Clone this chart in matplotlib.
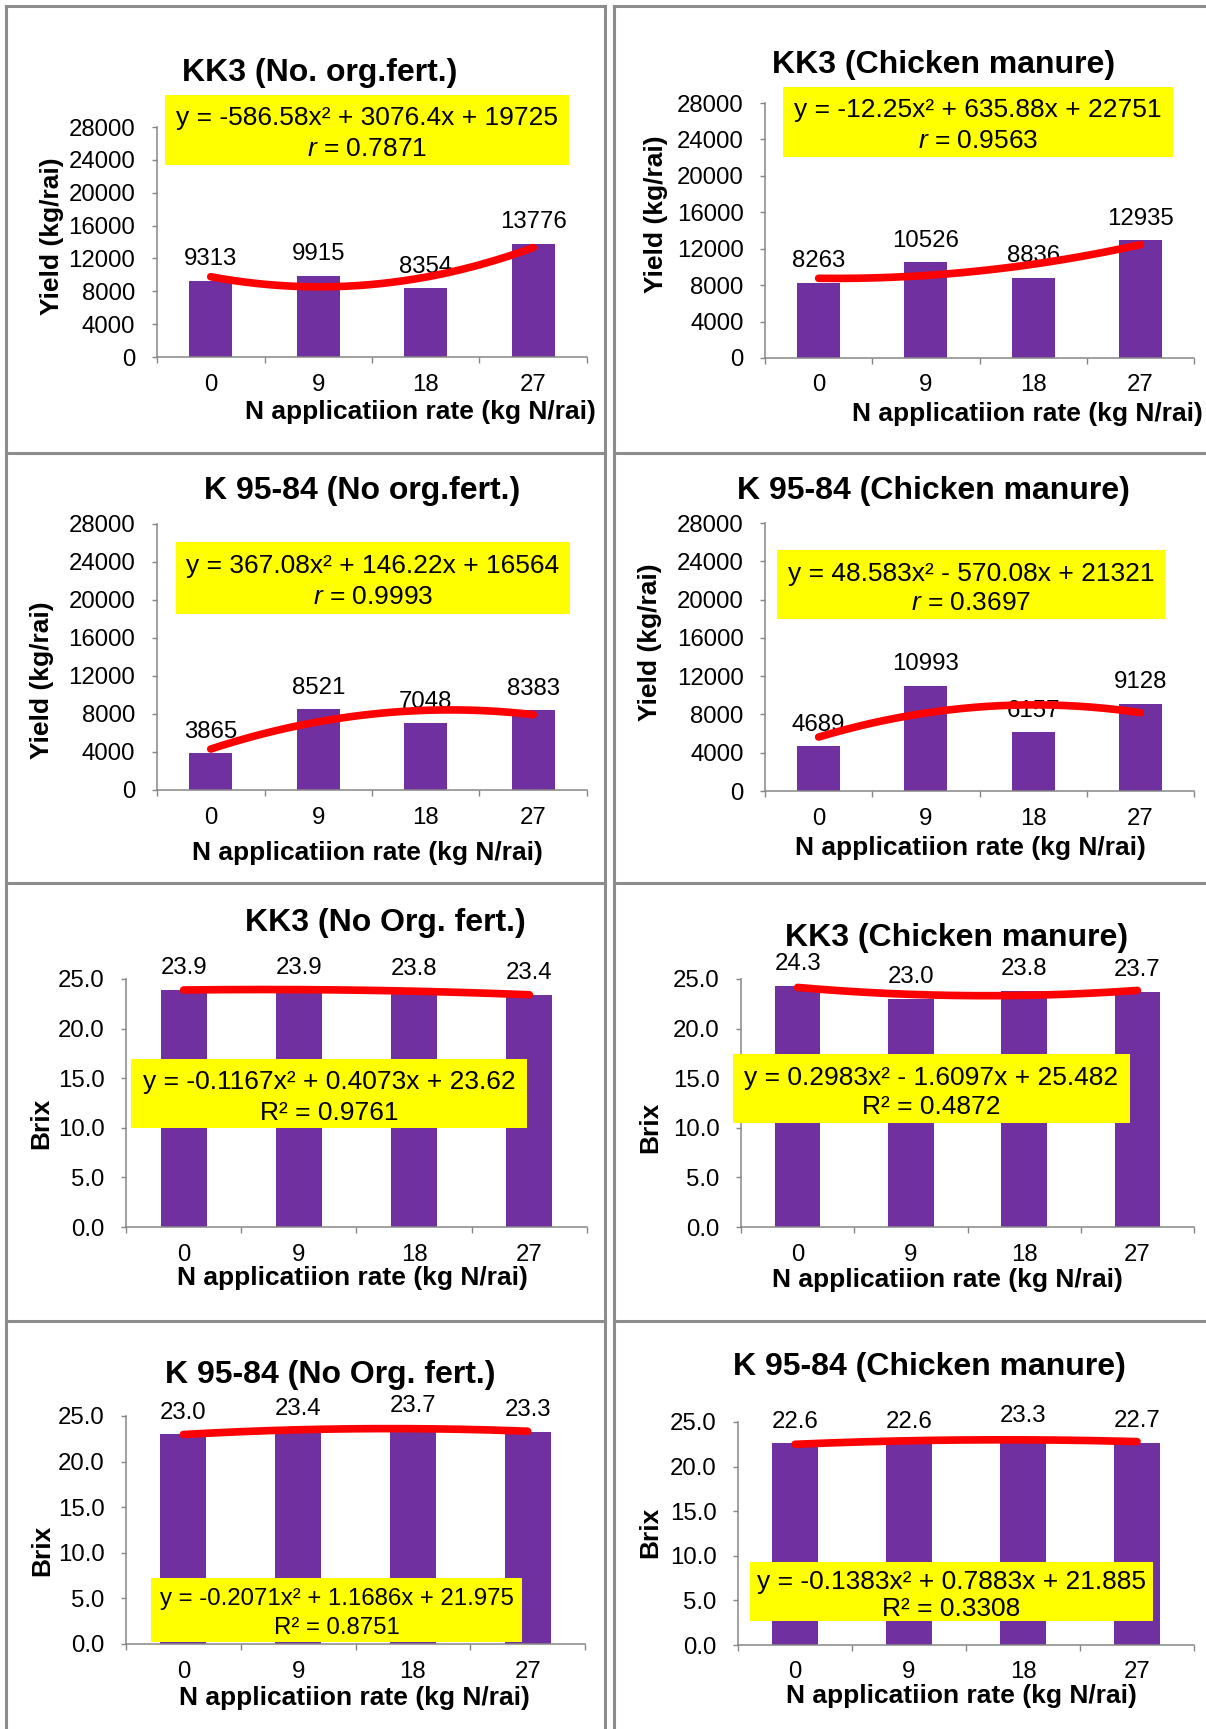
import numpy as np
import matplotlib
matplotlib.use("Agg")
import matplotlib.pyplot as plt
from matplotlib.patches import Rectangle
from matplotlib.lines import Line2D

plt.rcParams['font.family'] = ['Liberation Sans', 'DejaVu Sans']
plt.rcParams['mathtext.fontset'] = 'custom'
plt.rcParams['mathtext.rm'] = 'Liberation Sans'
plt.rcParams['mathtext.it'] = 'Liberation Sans:italic'

W, H = 1206, 1729
PT = 0.72  # points per pixel (dpi 100)

# ---- data ----
rates = ["0", "9", "18", "27"]

yield_kk3_none = [9313, 9915, 8354, 13776]
yield_kk3_chicken = [8263, 10526, 8836, 12935]
yield_k95_none = [3865, 8521, 7048, 8383]
yield_k95_chicken = [4689, 10993, 6157, 9128]

brix_kk3_none = [23.9, 23.9, 23.8, 23.4]
brix_kk3_chicken = [24.3, 23.0, 23.8, 23.7]
brix_k95_none = [23.0, 23.4, 23.7, 23.3]
brix_k95_chicken = [22.6, 22.6, 23.3, 22.7]

titles = ["KK3 (No. org.fert.)", "KK3 (Chicken manure)",
          "K 95-84 (No org.fert.)", "K 95-84 (Chicken manure)",
          "KK3 (No Org. fert.)", "KK3 (Chicken manure)",
          "K 95-84 (No Org. fert.)", "K 95-84 (Chicken manure)"]

equations = ["y = -586.58x² + 3076.4x + 19725",
             "y = -12.25x² + 635.88x + 22751",
             "y = 367.08x² + 146.22x + 16564",
             "y = 48.583x² - 570.08x + 21321",
             "y = -0.1167x² + 0.4073x + 23.62",
             "y = 0.2983x² - 1.6097x + 25.482",
             "y = -0.2071x² + 1.1686x + 21.975",
             "y = -0.1383x² + 0.7883x + 21.885"]

fit_stats = ["$r$ = 0.7871", "$r$ = 0.9563", "$r$ = 0.9993", "$r$ = 0.3697",
             "R² = 0.9761", "R² = 0.4872", "R² = 0.8751", "R² = 0.3308"]

yield_ticks = [0, 4000, 8000, 12000, 16000, 20000, 24000, 28000]
brix_ticks = [0, 5, 10, 15, 20, 25]

series = [yield_kk3_none, yield_kk3_chicken, yield_k95_none, yield_k95_chicken,
          brix_kk3_none, brix_kk3_chicken, brix_k95_none, brix_k95_chicken]

# ---- layout (pixels, origin top-left) ----
# axes: x0, x1, ytop, ybot ; title, ylabel, xlabel centres ; box l, r, t, b ; eq line ys ; tick label y
layout = [
    dict(ax=(157, 587, 127, 357), title=(320, 70), ylab=(52, 236), xlab=(420, 410),
         box=(165, 569, 95, 165), eqy=(115, 147), ticky=383, eqfs=19),
    dict(ax=(765, 1194, 103, 358), title=(944, 62), ylab=(656, 214), xlab=(1027, 412),
         box=(783, 1173, 87, 157), eqy=(107, 138), ticky=383, eqfs=19),
    dict(ax=(157, 587, 524, 790), title=(362, 488), ylab=(42, 680), xlab=(367, 851),
         box=(176, 570, 542, 614), eqy=(563, 595), ticky=816, eqfs=19),
    dict(ax=(765, 1194, 523, 791), title=(933, 488), ylab=(650, 642), xlab=(970, 845),
         box=(777, 1165, 550, 619), eqy=(572, 601), ticky=817, eqfs=19),
    dict(ax=(126, 587, 979, 1227), title=(385, 920), ylab=(41, 1123), xlab=(352, 1275),
         box=(131, 527, 1059, 1128), eqy=(1080, 1110), ticky=1253, eqfs=19),
    dict(ax=(741, 1194, 979, 1227), title=(957, 935), ylab=(650, 1127), xlab=(947, 1278),
         box=(733, 1130, 1054, 1123), eqy=(1075, 1105), ticky=1253, eqfs=19),
    dict(ax=(126, 585, 1416, 1644), title=(330, 1372), ylab=(42, 1550), xlab=(354, 1695),
         box=(151, 522, 1578, 1642), eqy=(1597, 1625), ticky=1670, eqfs=17.3),
    dict(ax=(738, 1194, 1422, 1645), title=(929, 1364), ylab=(650, 1532), xlab=(961, 1694),
         box=(750, 1153, 1562, 1621), eqy=(1580, 1607), ticky=1670, eqfs=19),
]

BAR = "#7030A0"
AXC = "#868686"
FS_TICK = 17.3
FS_TITLE = 23
FS_AXT = 19


def fx(x):
    return x / W


def fy(y):
    return 1 - y / H


fig = plt.figure(figsize=(W / 100, H / 100), dpi=100)

# panel borders
bc = dict(color="#8c8c8c", lw=2.2, transform=fig.transFigure)
for x in (6, 605, 614):
    fig.add_artist(Line2D([fx(x), fx(x)], [fy(6), fy(H)], **bc))
for y in (6, 453, 883, 1321):
    fig.add_artist(Line2D([fx(6), fx(605)], [fy(y), fy(y)], **bc))
    fig.add_artist(Line2D([fx(614), fx(W)], [fy(y), fy(y)], **bc))

for i in range(8):
    lay = layout[i]
    vals = series[i]
    is_yield = i < 4
    x0, x1, yt, yb = lay["ax"]
    ax = fig.add_axes([fx(x0), fy(yb), (x1 - x0) / W, (yb - yt) / H])
    idx = np.arange(len(vals))
    ax.bar(idx, vals, width=0.4, color=BAR, zorder=2)

    # quadratic trend line through the bars
    p = np.polyfit(idx + 1, vals, 2)
    xs = np.linspace(1, 4, 200)
    ax.plot(xs - 1, np.polyval(p, xs), color="#FF0000", lw=5.5,
            solid_capstyle="round", zorder=4, clip_on=False)

    ymax = 28000 if is_yield else 25
    ax.set_xlim(-0.5, 3.5)
    ax.set_ylim(0, ymax)
    ticks = yield_ticks if is_yield else brix_ticks
    ax.set_yticks(ticks)
    ax.set_yticklabels([str(t) if is_yield else "%.1f" % t for t in ticks])
    ax.set_xticks([-0.5, 0.5, 1.5, 2.5, 3.5])
    ax.set_xticklabels([])
    ax.set_xticks(idx, rates, minor=True)

    for s in ("top", "right"):
        ax.spines[s].set_visible(False)
    for s in ("left", "bottom"):
        ax.spines[s].set_color(AXC)
        ax.spines[s].set_linewidth(1.1)
    ax.tick_params(axis="y", which="major", direction="out", length=5 * PT, width=1.0,
                   color=AXC, labelsize=FS_TICK, pad=16.5 * PT)
    ax.tick_params(axis="x", which="major", direction="out", length=6 * PT, width=1.0,
                   color=AXC)
    ax.tick_params(axis="x", which="minor", length=0, labelsize=FS_TICK,
                   pad=(lay["ticky"] - yb - 9) * PT)
    ax.patch.set_alpha(0)

    for j, v in enumerate(vals):
        lab = str(v) if is_yield else "%.1f" % v
        ax.annotate(lab, (j, v), xytext=(0, 15.5 * PT), textcoords="offset points",
                    ha="center", va="baseline", fontsize=FS_TICK, zorder=3,
                    annotation_clip=False)

    # titles and axis titles
    tx, ty = lay["title"]
    fig.text(fx(tx), fy(ty), titles[i], ha="center", va="center_baseline",
             fontsize=FS_TITLE, fontweight="bold")
    lx, ly = lay["xlab"]
    fig.text(fx(lx), fy(ly), "N applicatiion rate (kg N/rai)", ha="center",
             va="center_baseline", fontsize=FS_AXT, fontweight="bold")
    yx, yy = lay["ylab"]
    fig.text(fx(yx), fy(yy), "Yield (kg/rai)" if is_yield else "Brix", ha="center",
             va="center", rotation=90, fontsize=FS_AXT, fontweight="bold")

    # equation box
    bl, br, bt, bb = lay["box"]
    fig.add_artist(Rectangle((fx(bl), fy(bb)), (br - bl) / W, (bb - bt) / H,
                             transform=fig.transFigure, facecolor="#FFFF00",
                             edgecolor="none", zorder=5))
    cx = (bl + br) / 2
    e1, e2 = lay["eqy"]
    fig.text(fx(cx), fy(e1), equations[i], ha="center", va="center_baseline",
             fontsize=lay["eqfs"], zorder=6)
    fig.text(fx(cx), fy(e2), fit_stats[i], ha="center", va="center_baseline",
             fontsize=lay["eqfs"], zorder=6)

fig.savefig("out.png", dpi=100)
